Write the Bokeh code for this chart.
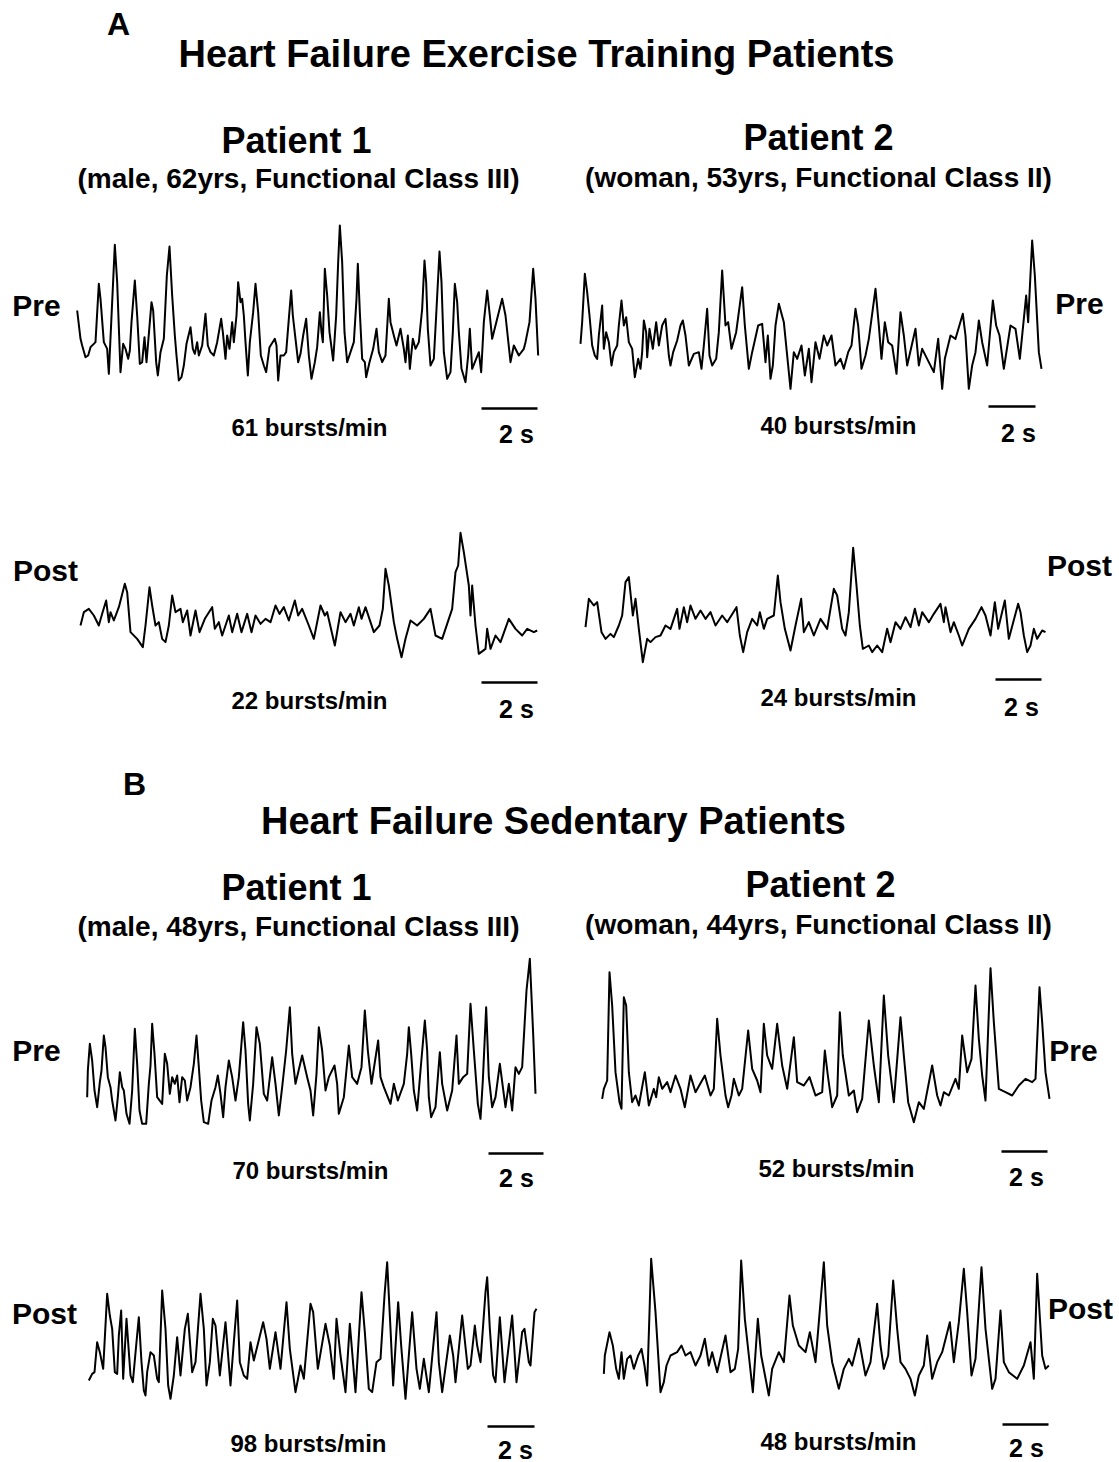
import numpy as np
from bokeh.plotting import figure
from bokeh.models import Range1d
from bokeh.core.properties import value
from bokeh.embed import file_html
from bokeh.resources import INLINE

A1_PRE_T = [5,15,20,30,38,45,55,60,70,75,85,95,100,118,125,135,143,150,158,163,168,178,185,193,200,207,213,228,233,242,247,255,265,274,282,290,298,303,310,318,325,333,345,352,358,365,370,380,390,397,405,415,425,437,442,450,455,462,470,475,483,488,495,500,505,510,517,523,533,540,548,556,565,572,582,598,603,608,615,625,632,640,647,652,660,668,675,683,692,700,708,718,725,733,738,742,748,755,762,773,782,788,793,800,807,815,825,835,843,847,853,860,868,872,882,893,903,910,920,930,940,945,955,963,975,985,990,997,1003,1012,1020,1030,1040,1047,1052,1057,1065,1075,1082,1092,1098,1105,1115,1125,1132,1138,1145,1150,1158,1170,1178,1183,1190,1210,1217,1225,1235,1243,1250,1265,1280,1290,1305,1315,1330,1345,1350,1362,1373,1380,1388]
A1_PRE_V = [255,170,150,115,120,145,155,160,335,290,160,140,65,452,340,70,155,140,110,135,220,345,240,95,100,175,100,280,255,100,60,130,170,360,447,300,180,120,45,55,90,155,205,140,125,160,120,150,245,150,130,120,160,230,190,110,180,140,220,160,240,340,280,290,240,160,60,160,250,335,250,120,90,70,145,170,150,45,120,120,130,230,315,240,170,100,125,180,230,120,50,100,145,250,190,160,380,300,190,105,240,400,510,400,190,100,130,160,290,395,250,110,100,55,100,140,200,130,100,120,290,220,180,150,200,140,100,180,80,170,140,160,260,405,340,200,90,110,240,432,340,130,50,70,190,335,280,190,80,40,120,200,80,130,70,220,315,240,170,230,290,240,100,150,120,140,160,220,380,290,120]

A2_PRE_T = [15,20,28,35,42,50,58,65,70,80,85,92,100,108,115,125,130,138,145,152,160,170,178,188,195,200,205,212,215,222,232,242,250,260,270,280,285,293,305,315,322,330,340,355,370,378,385,395,402,410,422,430,440,450,458,468,482,500,508,520,530,548,560,570,577,585,592,600,610,625,638,645,655,665,678,688,700,708,720,732,745,755,768,780,795,805,818,828,840,848,858,870,880,900,910,918,928,938,950,963,975,985,995,1020,1030,1040,1055,1075,1088,1100,1108,1125,1140,1162,1170,1180,1190,1200,1210,1220,1235,1252,1262,1272,1285,1305,1320,1333,1352,1358,1370,1378,1390,1398]
A2_PRE_V = [185,250,395,340,270,180,150,140,210,300,170,220,190,120,160,180,240,315,240,265,190,170,85,140,110,160,255,220,145,230,170,250,180,240,260,150,120,160,195,240,255,210,120,155,160,110,180,290,150,120,140,220,405,240,250,170,220,355,240,110,160,240,245,130,210,80,120,240,305,250,120,50,160,140,180,90,170,70,190,140,210,180,210,120,140,110,160,180,290,240,110,150,200,350,240,140,250,190,180,95,280,210,120,230,120,170,140,100,200,50,140,210,200,275,210,50,120,160,255,190,120,315,240,210,110,240,230,140,330,250,495,390,160,110]

A1_POST_T = [15,25,40,55,70,80,92,100,105,115,130,148,155,165,185,202,210,222,230,240,250,260,270,280,290,300,315,322,335,345,360,372,388,410,418,430,440,460,470,485,498,515,528,540,555,570,585,600,612,625,640,658,668,680,700,715,735,748,755,778,795,810,825,835,850,858,870,895,912,922,930,940,955,965,978,990,1005,1025,1045,1065,1080,1100,1130,1140,1148,1155,1165,1180,1185,1190,1200,1210,1230,1235,1245,1260,1275,1300,1320,1340,1355,1375,1385]
A1_POST_V = [240,280,290,270,240,275,315,250,280,255,295,365,340,220,200,175,240,355,300,240,250,200,190,240,330,280,290,250,285,210,285,220,260,295,230,250,210,270,220,275,220,275,220,270,245,260,250,300,275,295,255,315,270,290,240,200,300,270,280,180,280,250,275,240,295,260,295,220,240,290,410,360,250,200,145,200,255,240,260,290,210,200,290,400,420,518,460,360,270,360,240,155,170,230,170,210,190,260,230,210,230,220,225]

A2_POST_T = [30,40,55,65,78,90,105,115,130,140,150,160,172,180,190,202,215,225,240,255,270,285,305,312,325,335,345,360,375,390,405,420,440,455,483,493,503,515,530,545,553,565,575,595,607,615,628,645,660,677,685,700,715,735,755,775,785,800,810,820,833,843,853,862,880,890,905,920,935,945,960,975,990,1005,1018,1030,1040,1060,1075,1095,1105,1110,1125,1135,1150,1160,1180,1200,1218,1230,1245,1258,1268,1288,1300,1328,1335,1345,1355,1365,1375,1385,1400,1410]
A2_POST_V = [265,350,330,340,250,230,245,235,270,300,400,415,300,350,260,160,230,220,235,240,270,260,320,260,325,280,330,290,315,290,310,270,300,280,325,240,190,250,290,270,310,260,290,300,420,340,260,195,270,350,250,280,240,290,260,380,360,260,240,310,503,390,270,200,210,190,210,190,260,220,280,260,295,265,320,270,310,280,305,335,280,325,250,280,240,210,260,290,325,300,240,340,260,345,230,335,310,240,190,210,260,230,255,250]

B1_PRE_T = [20,22,28,35,42,50,58,63,70,75,82,90,95,105,112,118,125,130,138,147,155,163,170,177,185,197,205,210,215,222,230,245,253,260,268,275,283,290,297,305,313,320,330,340,348,355,362,370,383,393,405,412,420,428,435,445,455,465,475,488,495,503,508,518,528,538,550,560,575,585,595,605,617,628,635,645,665,680,690,698,708,715,725,735,745,762,770,775,790,805,815,830,843,853,862,873,893,900,910,930,940,952,970,980,985,992,1000,1010,1020,1033,1040,1045,1052,1065,1078,1085,1100,1115,1128,1135,1148,1160,1170,1180,1192,1200,1207,1217,1225,1235,1245,1258,1275,1285,1295,1305,1315,1325,1338,1348,1358,1365]
B1_PRE_V = [100,180,260,210,120,70,145,180,285,250,160,130,90,30,100,175,130,120,50,20,120,305,200,60,20,20,140,195,320,230,100,80,230,200,110,160,140,165,85,160,150,90,130,200,285,190,90,25,20,90,130,165,110,40,130,210,160,90,160,325,240,80,30,140,310,260,110,90,220,140,45,130,240,370,230,140,225,160,120,45,170,310,240,120,160,195,140,50,100,255,160,140,190,360,240,140,270,160,130,80,140,90,140,230,310,230,120,60,180,330,240,100,40,70,235,140,60,120,285,140,160,170,380,240,80,35,150,370,160,70,100,200,70,140,60,190,170,190,420,515,290,110]

B2_PRE_T = [20,25,35,42,50,60,72,78,85,92,100,110,120,130,148,160,175,182,190,200,215,225,240,255,268,285,300,328,345,355,365,375,390,398,408,415,430,440,458,470,485,495,505,515,530,545,560,575,595,605,625,642,660,680,688,697,710,725,733,742,760,775,785,800,820,835,850,865,878,895,915,925,938,955,970,985,1010,1025,1035,1045,1060,1080,1090,1100,1115,1128,1140,1150,1160,1170,1185,1195,1210,1230,1250,1270,1290,1310,1320,1332,1340,1350,1362]
B2_PRE_V = [110,140,165,490,390,190,100,80,415,390,190,100,120,90,190,90,140,115,175,140,160,130,180,140,85,180,130,180,120,140,350,240,120,85,120,170,120,140,315,200,165,130,335,240,200,335,210,140,295,160,150,175,120,130,255,180,85,120,370,240,120,135,70,110,345,210,100,420,240,100,355,240,100,40,100,80,210,120,90,130,120,170,140,300,190,230,450,290,180,105,502,340,140,130,120,150,170,160,170,445,340,190,110]

B1_POST_T = [25,35,42,50,58,68,80,88,95,103,110,115,122,128,138,150,157,167,175,183,190,195,200,210,220,230,235,245,255,263,270,280,290,300,313,322,335,345,360,370,378,388,397,405,418,435,450,460,470,478,490,500,510,520,548,558,568,585,600,618,628,645,660,670,690,698,712,735,748,760,768,780,795,808,825,843,853,865,875,888,900,912,920,930,938,953,962,975,995,1008,1018,1030,1045,1068,1075,1085,1108,1118,1125,1145,1162,1170,1183,1190,1200,1215,1220,1228,1238,1245,1258,1272,1295,1308,1325,1332,1345,1350,1362,1368]
B1_POST_V = [135,155,160,250,220,170,395,330,290,160,155,270,345,140,320,150,130,240,325,190,105,90,160,220,210,140,130,405,290,120,80,150,265,150,290,335,160,190,395,290,120,190,320,300,150,310,120,250,375,190,150,140,250,195,310,260,170,280,170,370,230,100,180,140,365,340,170,305,240,140,320,210,100,305,100,400,280,110,100,190,200,390,490,290,120,370,240,80,340,170,110,200,100,340,190,100,270,210,130,330,170,180,300,240,190,400,445,290,150,130,325,130,330,130,280,290,190,180,340,350]

B2_POST_T = [25,28,42,52,62,70,78,85,95,105,115,128,138,147,155,163,167,180,195,205,213,225,245,258,270,285,300,315,328,340,350,365,390,405,418,428,437,448,460,472,487,497,520,530,550,565,582,592,610,630,643,660,685,695,710,730,745,760,770,790,810,825,845,855,865,878,893,905,915,930,945,958,970,985,995,1010,1025,1040,1063,1075,1090,1105,1115,1128,1140,1158,1170,1190,1200,1215,1225,1240,1265,1285,1305,1315,1325,1340,1350,1360]
B2_POST_V = [155,210,280,240,170,140,220,140,200,210,170,210,230,180,120,370,500,340,100,130,180,210,220,240,210,220,180,210,260,180,220,160,270,160,170,230,495,320,210,100,320,210,90,170,220,190,390,300,240,220,280,190,490,300,190,110,170,200,180,260,150,190,365,240,170,210,435,290,190,170,140,90,150,180,270,140,190,220,310,190,310,470,340,150,200,475,290,110,140,345,190,160,140,180,250,140,455,210,170,180]

# digitiser samples per second for each trace (from its 2-s calibration bar)
FS = [84, 70.5, 84, 69, 82.5, 69, 70.5, 69]
SCALE_BAR_S = 2
BURSTS = [61, 40, 22, 24, 70, 52, 98, 48]
SECTION_LETTERS = ["A", "B"]
SECTION_TITLES = ["Heart Failure Exercise Training Patients", "Heart Failure Sedentary Patients"]
PATIENT_NAMES = ["Patient 1", "Patient 2"]
PATIENT_INFO = [["(male, 62yrs, Functional Class III)", "(woman, 53yrs, Functional Class II)"],
                ["(male, 48yrs, Functional Class III)", "(woman, 44yrs, Functional Class II)"]]
CONDITIONS = ["Pre", "Pre", "Post", "Post", "Pre", "Pre", "Post", "Post"]

TRACES = [(A1_PRE_T, A1_PRE_V), (A2_PRE_T, A2_PRE_V), (A1_POST_T, A1_POST_V), (A2_POST_T, A2_POST_V),
          (B1_PRE_T, B1_PRE_V), (B2_PRE_T, B2_PRE_V), (B1_POST_T, B1_POST_V), (B2_POST_T, B2_POST_V)]

# ---------------- layout (page pixels) ----------------
W, H = 1119, 1462
M = 0
PX_PER_SAMPLE = 1 / 3.0
V_REF = 540
ORIGINS = [(75, 215), (575, 225), (75, 525), (575, 535), (80, 950), (595, 955), (80, 1245), (595, 1245)]
BAR_POS = [(481, 408), (988, 406), (481, 682), (995, 679), (488, 1153), (1001, 1151), (487, 1426), (1002, 1424)]
BAR_LABEL_POS = [(516, 433), (1018, 432), (516, 708), (1021, 706), (516, 1177), (1026, 1176), (515, 1449), (1026, 1447)]
BURST_POS = [(309, 427), (838, 425), (309, 700), (838, 697), (310, 1170), (836, 1168), (308, 1443), (838, 1441)]
COND_POS = [(36, 305), (1079, 303), (45, 570), (1079, 565), (36, 1050), (1073, 1050), (44, 1313), (1080, 1308)]
LETTER_POS = [(118, 23), (134, 783)]
TITLE_POS = [(536, 53), (553, 820)]
NAME_POS = [[(296, 140), (818, 137)], [(296, 887), (820, 884)]]
INFO_POS = [[(298, 178), (818, 177)], [(298, 926), (818, 924)]]

FONT = value("Liberation Sans")

p = figure(width=W, height=H, x_range=Range1d(0, W), y_range=Range1d(H, 0),
           toolbar_location=None, output_backend="svg", min_border=0,
           x_axis_location=None, y_axis_location=None, outline_line_color=None,
           background_fill_color="white", border_fill_color="white")
p.xgrid.visible = False
p.ygrid.visible = False


def add_text(x, y, txt, size):
    p.text(x=[x - M], y=[y - M], text=[txt], text_font=FONT, text_font_style="bold",
           text_font_size=f"{size}px", text_align="center", text_baseline="middle", text_color="black")


for i, ((t, v), (ox, oy)) in enumerate(zip(TRACES, ORIGINS)):
    name = f"tr{i}"
    xs = -(ox - M) / PX_PER_SAMPLE
    p.extra_x_ranges[name] = Range1d(xs, xs + W / PX_PER_SAMPLE)
    ys = -(H - (oy - M) - V_REF * PX_PER_SAMPLE) / PX_PER_SAMPLE
    p.extra_y_ranges[name] = Range1d(ys, ys + H / PX_PER_SAMPLE)
    p.line(x=t, y=v, x_range_name=name, y_range_name=name, line_color="black", line_width=2.0,
           line_join="round")
    # calibration bar: SCALE_BAR_S seconds
    bx, by = BAR_POS[i]
    s0 = (bx - ox) / PX_PER_SAMPLE
    s1 = s0 + SCALE_BAR_S * FS[i]
    vb = V_REF - (by - oy) / PX_PER_SAMPLE
    p.line(x=[s0, s1], y=[vb, vb], x_range_name=name, y_range_name=name, line_color="black", line_width=2.5)
    lx, ly = BAR_LABEL_POS[i]
    add_text(lx, ly, f"{SCALE_BAR_S} s", 25)
    bxp, byp = BURST_POS[i]
    add_text(bxp, byp, f"{BURSTS[i]} bursts/min", 24)
    cx, cy = COND_POS[i]
    add_text(cx, cy, CONDITIONS[i], 30)

for s in range(2):
    add_text(*LETTER_POS[s], SECTION_LETTERS[s], 32)
    add_text(*TITLE_POS[s], SECTION_TITLES[s], 38)
    for k in range(2):
        add_text(*NAME_POS[s][k], PATIENT_NAMES[k], 36)
        add_text(*INFO_POS[s][k], PATIENT_INFO[s][k], 28)

open("out.html", "w").write(file_html(p, INLINE))
